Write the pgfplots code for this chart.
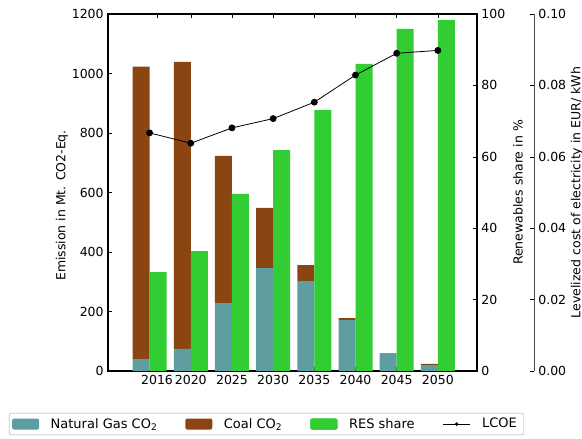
\documentclass[border=0pt]{standalone}
\usepackage{fontspec}
\setmainfont{DejaVu Sans}
\usepackage{pgfplots}
\pgfplotsset{compat=1.18}
\definecolor{gasc}{RGB}{95,158,160}
\definecolor{coalc}{RGB}{139,69,19}
\definecolor{resc}{RGB}{50,205,50}
\begin{document}
\fontsize{12.5}{15}\selectfont
\begin{tikzpicture}[font=\fontsize{12.5}{15}\selectfont]
\useasboundingbox (0pt,0pt) rectangle (582pt,-439pt);
\pgfplotsset{
  base/.style={
    scale only axis, width=369pt, height=357pt,
    /pgf/number format/assume math mode=true,
    tick align=inside, major tick length=4pt,
    every tick/.style={black, line width=0.5pt},
  }
}
% main axis: emissions
\begin{axis}[base,
  at={(108pt,-371pt)}, anchor=south west,
  xmin=-1.01, xmax=7.95, ymin=0, ymax=1200,
  ybar stacked, bar width=17pt, bar shift=-8.5pt,
  axis line style={line width=1.2pt},
  xtick={0.18,1,2,3,4,5,6,7},
  xticklabels={2016,2020,2025,2030,2035,2040,2045,2050},
  xtick pos=both,
  ytick={0,200,...,1200}, ytick pos=left,
  yticklabel style={/pgf/number format/1000 sep={}},
  ylabel={Emission in Mt. CO2-Eq.},
  ylabel style={at={(axis description cs:-0.1247,0.4636)}, anchor=center},
  legend columns=4,
  legend style={at={(axis description cs:-0.2683,-0.1176)}, anchor=north west,
    font=\fontsize{13}{15.5}\selectfont,
    draw=black!35, rounded corners=2pt, inner xsep=3pt, inner ysep=3pt,
    /tikz/every even column/.append style={column sep=24pt},
    /tikz/every odd column/.append style={column sep=7.5pt},
    nodes={inner xsep=4pt}},
]
\addplot[fill=gasc, draw=none,
  legend image code/.code={\fill[gasc] (0pt,-5.5pt) rectangle (27pt,5.5pt);}]
  coordinates {(0,40) (1,74) (2,228) (3,346) (4,302) (5,171) (6,58) (7,20)};
\addlegendentry{Natural Gas CO\textsubscript{2}}
\addplot[fill=coalc, draw=none,
  legend image code/.code={\fill[coalc] (0pt,-5.5pt) rectangle (27pt,5.5pt);}]
  coordinates {(0,983) (1,965) (2,495) (3,202) (4,54) (5,7) (6,2) (7,4)};
\addlegendentry{Coal CO\textsubscript{2}}
\addlegendimage{legend image code/.code={\fill[resc] (0pt,-5.5pt) rectangle (27pt,5.5pt);}}
\addlegendentry{RES share}
\addlegendimage{legend image code/.code={\draw[black, line width=0.8pt] (0pt,0pt) -- (27pt,0pt); \fill[black] (13.5pt,0pt) circle (1.6pt);}}
\addlegendentry{LCOE}
\end{axis}
% RES share axis
\begin{axis}[base,
  at={(108pt,-371pt)}, anchor=south west,
  xmin=-1.01, xmax=7.95, ymin=0, ymax=100,
  ybar, bar width=17pt, bar shift=8.5pt,
  hide x axis,
  axis y line*=right,
  axis line style={line width=1.2pt},
  ytick={0,20,...,100},
  ylabel={Renewables share in \%},
  ylabel style={at={(axis description cs:1.111,0.5)}, anchor=center},
]
\addplot[fill=resc, draw=none]
  coordinates {(0,27.7) (1,33.6) (2,49.6) (3,61.9) (4,73.1) (5,86.0) (6,95.8) (7,98.3)};
\end{axis}
% LCOE axis
\begin{axis}[base,
  at={(165pt,-371pt)}, anchor=south west,
  xmin=0.374, xmax=9.334, ymin=0, ymax=0.1,
  clip=false,
  hide x axis,
  axis y line*=right,
  axis line style={line width=0.8pt, black!70},
  ytick={0,0.02,...,0.1},
  yticklabel style={/pgf/number format/.cd, fixed, fixed zerofill, precision=2},
  scaled y ticks=false,
  ylabel={Levelized cost of electricity in EUR/ kWh},
  ylabel style={at={(axis description cs:1.1165,0.5)}, anchor=center},
]
\addplot[black, line width=0.8pt, mark=*, mark size=3pt]
  coordinates {(0,0.0667) (1,0.0638) (2,0.0681) (3,0.0707) (4,0.0753) (5,0.0829) (6,0.0890) (7,0.0898)};
\end{axis}
\end{tikzpicture}
\end{document}
